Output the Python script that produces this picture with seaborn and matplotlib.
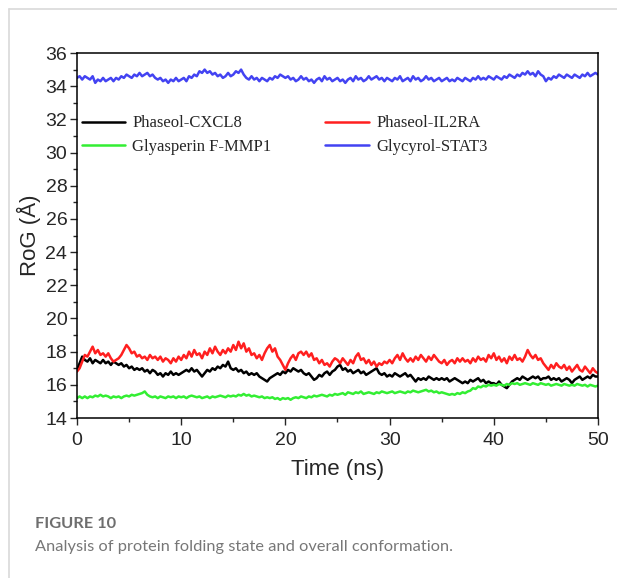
import numpy as np
import pandas as pd
import matplotlib.pyplot as plt
import seaborn as sns
from matplotlib.lines import Line2D
from matplotlib.ticker import MultipleLocator

cxcl8 = [
    16.9, 17.3, 17.7, 17.5, 17.4, 17.6, 17.3, 17.5, 17.4, 17.3, 17.5, 17.3, 17.4, 17.2, 17.4, 17.3, 17.2, 17.3, 17.1, 17.2,
    17.0, 17.1, 16.9, 17.0, 16.9, 17.0, 16.8, 16.9, 16.7, 16.9, 16.8, 16.6, 16.7, 16.5, 16.7, 16.6, 16.8, 16.6, 16.7, 16.6,
    16.7, 16.8, 16.9, 16.8, 17.0, 16.8, 16.9, 16.7, 16.5, 16.7, 16.9, 16.8, 17.0, 16.9, 17.1, 17.0, 17.2, 17.1, 17.4, 17.0,
    16.9, 17.0, 16.8, 16.9, 16.7, 16.8, 16.6, 16.7, 16.6, 16.7, 16.5, 16.4, 16.3, 16.2, 16.4, 16.5, 16.6, 16.7, 16.6, 16.8,
    16.7, 16.9, 16.8, 17.0, 16.9, 16.8, 16.9, 16.7, 16.6, 16.7, 16.5, 16.3, 16.4, 16.6, 16.5, 16.7, 16.8, 16.6, 16.8, 16.9,
    17.1, 17.2, 16.9, 17.0, 16.8, 16.9, 16.7, 16.8, 16.9, 16.7, 16.8, 16.6, 16.7, 16.8, 16.9, 17.0, 16.7, 16.6, 16.7, 16.5,
    16.6, 16.5, 16.7, 16.6, 16.5, 16.6, 16.7, 16.5, 16.6, 16.4, 16.2, 16.4, 16.3, 16.4, 16.3, 16.5, 16.4, 16.3, 16.4, 16.3,
    16.4, 16.3, 16.4, 16.2, 16.3, 16.4, 16.3, 16.2, 16.1, 16.2, 16.1, 16.3, 16.2, 16.3, 16.4, 16.2, 16.3, 16.1, 16.2, 16.1,
    16.1, 16.0, 16.2, 16.0, 15.9, 15.8, 16.0, 16.2, 16.3, 16.4, 16.3, 16.5, 16.4, 16.3, 16.4, 16.5, 16.4, 16.5, 16.3, 16.4,
    16.4, 16.5, 16.3, 16.4, 16.3, 16.4, 16.2, 16.3, 16.4, 16.3, 16.1, 16.3, 16.4, 16.5, 16.3, 16.4, 16.5, 16.4, 16.6, 16.5,
    16.5,
]
il2ra = [
    16.8, 17.0, 17.4, 17.8, 17.7, 18.0, 18.3, 17.9, 18.1, 17.8, 17.9, 17.7, 17.9, 17.6, 17.4, 17.5, 17.6, 17.8, 18.1, 18.4,
    18.2, 17.9, 18.0, 17.7, 17.8, 17.6, 17.7, 17.5, 17.8, 17.6, 17.7, 17.5, 17.7, 17.4, 17.6, 17.5, 17.3, 17.6, 17.4, 17.7,
    17.5, 17.8, 17.6, 18.0, 17.7, 18.1, 17.8, 17.9, 17.6, 18.0, 17.8, 18.2, 17.9, 18.3, 18.0, 17.8, 18.1, 17.9, 18.2, 18.0,
    18.4, 18.1, 18.6, 18.2, 18.5, 18.0, 18.2, 17.8, 17.9, 17.6, 17.8, 17.5, 17.9, 18.2, 18.4, 18.0, 18.2, 17.7, 17.5, 17.2,
    16.9, 17.3, 17.6, 17.8, 17.5, 17.9, 18.0, 17.8, 18.0, 17.7, 17.9, 17.5, 17.6, 17.3, 17.5, 17.2, 17.3, 17.1, 17.4, 17.6,
    17.5, 17.3, 17.6, 17.4, 17.2, 17.5, 17.3, 17.7, 17.9, 17.5, 17.6, 17.3, 17.5, 17.2, 17.4, 17.1, 17.3, 17.2, 17.4, 17.3,
    17.5, 17.3, 17.6, 17.8, 17.5, 17.9, 17.6, 17.4, 17.6, 17.4, 17.7, 17.5, 17.8, 17.6, 17.4, 17.7, 17.5, 17.8, 17.6, 17.4,
    17.3, 17.5, 17.2, 17.4, 17.5, 17.3, 17.6, 17.4, 17.6, 17.4, 17.5, 17.3, 17.6, 17.4, 17.7, 17.5, 17.6, 17.4, 17.8, 17.6,
    17.9, 17.5, 17.7, 17.4, 17.6, 17.3, 17.7, 17.5, 17.8, 17.5, 17.6, 17.4, 17.7, 18.1, 17.8, 17.6, 17.8, 17.5, 17.6, 17.3,
    17.1, 16.9, 17.2, 17.0, 17.3, 17.1, 17.0, 17.2, 16.9, 17.1, 16.8, 17.0, 17.2, 16.9, 16.8, 17.1, 16.9, 16.7, 17.0, 16.8,
    16.7,
]
mmp1 = [
    15.2, 15.3, 15.2, 15.3, 15.2, 15.3, 15.25, 15.35, 15.3, 15.4, 15.3, 15.35, 15.3, 15.2, 15.3, 15.25, 15.3, 15.2, 15.3, 15.35,
    15.3, 15.4, 15.35, 15.4, 15.45, 15.5, 15.6, 15.4, 15.3, 15.25, 15.3, 15.2, 15.3, 15.25, 15.2, 15.3, 15.25, 15.3, 15.2, 15.3,
    15.25, 15.3, 15.2, 15.3, 15.35, 15.3, 15.25, 15.3, 15.2, 15.25, 15.3, 15.2, 15.3, 15.25, 15.3, 15.35, 15.3, 15.25, 15.35, 15.3,
    15.35, 15.3, 15.4, 15.35, 15.45, 15.35, 15.4, 15.3, 15.35, 15.3, 15.25, 15.3, 15.2, 15.25, 15.2, 15.25, 15.15, 15.2, 15.1, 15.2,
    15.15, 15.2, 15.1, 15.2, 15.25, 15.2, 15.3, 15.25, 15.2, 15.3, 15.25, 15.35, 15.3, 15.35, 15.4, 15.35, 15.3, 15.4, 15.35, 15.45,
    15.4, 15.45, 15.5, 15.4, 15.55, 15.5, 15.45, 15.55, 15.5, 15.6, 15.45, 15.5, 15.55, 15.5, 15.45, 15.55, 15.5, 15.6, 15.55, 15.5,
    15.55, 15.6, 15.5, 15.55, 15.6, 15.55, 15.5, 15.6, 15.55, 15.65, 15.6, 15.55, 15.6, 15.65, 15.7, 15.6, 15.65, 15.55, 15.6, 15.5,
    15.55, 15.5, 15.45, 15.4, 15.45, 15.4, 15.5, 15.45, 15.55, 15.5, 15.6, 15.65, 15.8, 15.75, 15.9, 15.85, 15.95, 15.9, 16.0, 15.95,
    16.0, 15.95, 16.05, 16.0, 15.95, 16.05, 16.0, 16.1, 16.05, 16.1, 16.0, 16.05, 16.1, 16.05, 16.0, 16.1, 16.05, 16.0, 16.1, 16.05,
    16.0, 16.05, 15.95, 16.0, 16.05, 16.0, 15.95, 16.05, 16.0, 15.95, 16.0, 15.95, 16.05, 16.0, 15.95, 16.0, 15.9, 16.0, 15.95, 15.9,
    15.95,
]
stat3 = [
    34.5, 34.6, 34.4, 34.6, 34.5, 34.4, 34.6, 34.2, 34.4, 34.3, 34.5, 34.3, 34.4, 34.5, 34.3, 34.5, 34.4, 34.6, 34.5, 34.7,
    34.6, 34.5, 34.7, 34.6, 34.8, 34.6, 34.7, 34.8, 34.6, 34.7, 34.5, 34.4, 34.5, 34.3, 34.4, 34.2, 34.4, 34.3, 34.5, 34.3,
    34.4, 34.5, 34.3, 34.6, 34.5, 34.7, 34.6, 34.9, 34.8, 35.0, 34.8, 34.9, 34.7, 34.8, 34.6, 34.7, 34.5, 34.6, 34.8, 34.6,
    34.7, 34.9, 34.8, 35.0, 34.7, 34.5, 34.4, 34.6, 34.4, 34.5, 34.3, 34.5, 34.4, 34.3, 34.5, 34.4, 34.6, 34.5, 34.7, 34.6,
    34.5, 34.6, 34.4, 34.5, 34.3, 34.4, 34.6, 34.4, 34.5, 34.3, 34.4, 34.2, 34.4, 34.5, 34.3, 34.6, 34.4, 34.5, 34.3, 34.4,
    34.5, 34.3, 34.4, 34.2, 34.4, 34.5, 34.3, 34.6, 34.4, 34.5, 34.3, 34.4, 34.6, 34.4, 34.5, 34.6, 34.4, 34.5, 34.3, 34.5,
    34.4, 34.3, 34.5, 34.4, 34.6, 34.3, 34.4, 34.5, 34.3, 34.6, 34.4, 34.5, 34.3, 34.4, 34.6, 34.4, 34.5, 34.3, 34.4, 34.5,
    34.3, 34.4, 34.5, 34.3, 34.4, 34.3, 34.5, 34.4, 34.3, 34.5, 34.4, 34.3, 34.5, 34.4, 34.6, 34.4, 34.5, 34.4, 34.6, 34.5,
    34.4, 34.6, 34.5, 34.4, 34.6, 34.5, 34.7, 34.6, 34.5, 34.7, 34.6, 34.8, 34.7, 34.9, 34.7, 34.8, 34.6, 34.9, 34.7, 34.6,
    34.3, 34.5, 34.4, 34.6, 34.5, 34.7, 34.6, 34.5, 34.7, 34.6, 34.5, 34.7, 34.6, 34.5, 34.7, 34.6, 34.8, 34.6, 34.7, 34.8,
    34.7,
]
time_ns = np.linspace(0, 50, len(cxcl8))

labels = ['Phaseol-CXCL8', 'Phaseol-IL2RA', 'Glyasperin F-MMP1', 'Glycyrol-STAT3']
colors = ['#000000', '#ff1f1f', '#33ee33', '#4343f2']
series = [cxcl8, il2ra, mmp1, stat3]

sns.set_style('ticks')
plt.rcParams['font.family'] = ['Liberation Sans', 'DejaVu Sans']

fig = plt.figure(figsize=(6.17, 5.78), dpi=100)
ax = fig.add_axes([0.1248, 0.2768, 0.8444, 0.6315])

for vals, lab, col in zip(series, labels, colors):
    sns.lineplot(x=time_ns, y=vals, color=col, linewidth=1.8, ax=ax, label=lab)

ax.set_xlim(0, 50)
ax.set_ylim(14, 36)
ax.xaxis.set_major_locator(MultipleLocator(10))
ax.xaxis.set_minor_locator(MultipleLocator(5))
ax.yaxis.set_major_locator(MultipleLocator(2))
ax.yaxis.set_minor_locator(MultipleLocator(1))
ax.tick_params(which='major', direction='out', length=5, width=1, labelsize=14,
               top=False, right=False)
ax.tick_params(axis='x', which='major', pad=5)
ax.tick_params(axis='y', which='major', pad=2)
ax.tick_params(which='minor', direction='out', length=3, width=1, top=False, right=False)
for sp in ax.spines.values():
    sp.set_visible(True)
    sp.set_color('black')
    sp.set_linewidth(1.1)

ax.set_xlabel('Time (ns)', fontsize=16, labelpad=7)
ax.set_ylabel('RoG (Å)', fontsize=16, labelpad=3)

# legend split in two columns like the original
handles, _ = ax.get_legend_handles_labels()
ax.get_legend().remove()
leg_font = {'family': 'Liberation Serif', 'size': 12}
leg1 = ax.legend([handles[0], handles[2]], [labels[0], labels[2]], loc='upper left',
                 bbox_to_anchor=(-0.02, 0.87), frameon=False, prop=leg_font,
                 handlelength=2.6, handletextpad=0.45, labelspacing=0.45)
ax.add_artist(leg1)
ax.legend([handles[1], handles[3]], [labels[1], labels[3]], loc='upper left',
          bbox_to_anchor=(0.448, 0.87), frameon=False, prop=leg_font,
          handlelength=2.6, handletextpad=0.45, labelspacing=0.45)

# page frame and caption
fig.add_artist(Line2D([0.0146, 1.0], [0.9844, 0.9844], color='#d9d9d9', linewidth=1.2))
fig.add_artist(Line2D([0.0146, 0.0146], [0.0, 0.9844], color='#d9d9d9', linewidth=1.2))
fig.text(0.057, 0.081, 'FIGURE 10', fontsize=11.8, fontweight='bold', color='#6e6e6e',
         family=['Lato', 'DejaVu Sans'], va='bottom')
fig.text(0.057, 0.042, 'Analysis of protein folding state and overall conformation.',
         fontsize=11.8, color='#777777', family=['Lato', 'DejaVu Sans'], va='bottom')

fig.savefig('out.png', dpi=100)
